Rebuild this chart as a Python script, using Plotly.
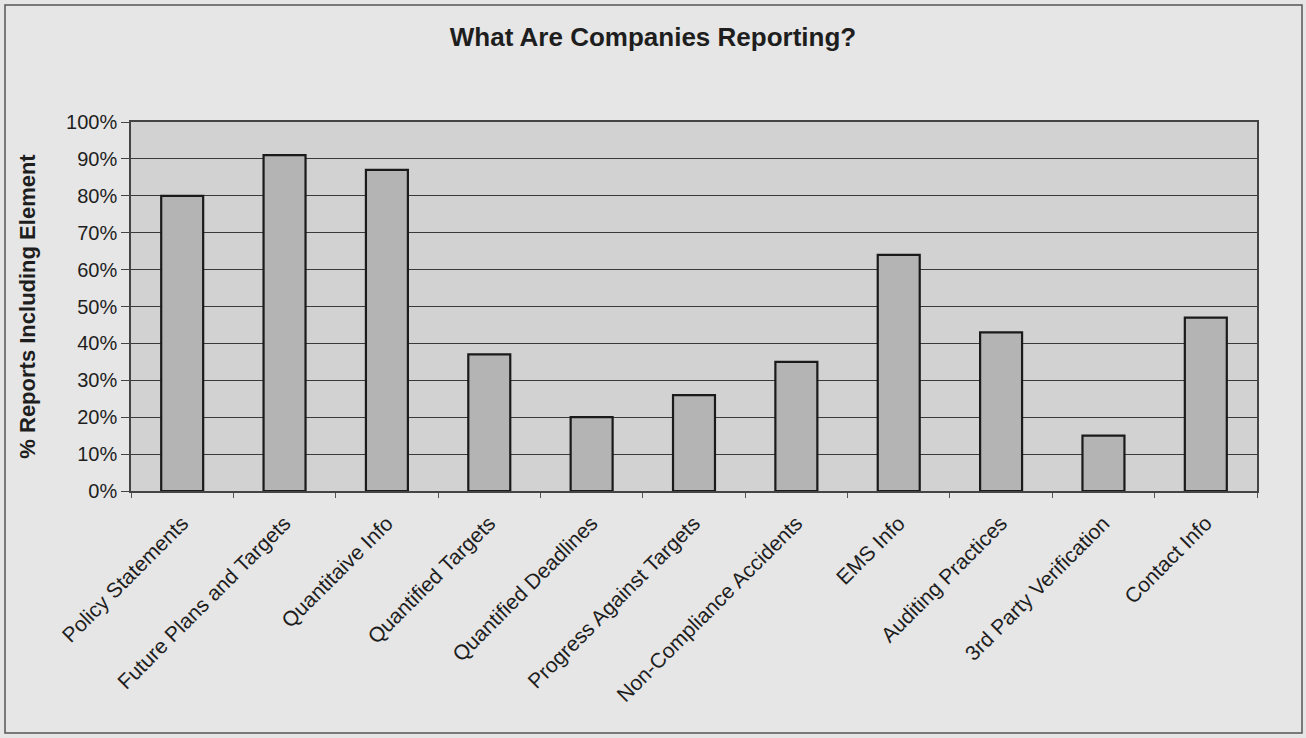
import plotly.graph_objects as go

categories = ["Policy Statements", "Future Plans and Targets", "Quantitaive Info",
              "Quantified Targets", "Quantified Deadlines", "Progress Against Targets",
              "Non-Compliance Accidents", "EMS Info", "Auditing Practices",
              "3rd Party Verification", "Contact Info"]
values = [0.80, 0.91, 0.87, 0.37, 0.20, 0.26, 0.35, 0.64, 0.43, 0.15, 0.47]
y_ticks = [0, 0.1, 0.2, 0.3, 0.4, 0.5, 0.6, 0.7, 0.8, 0.9, 1.0]

W, H = 1306, 738
ml, mr, mt, mb = 131, 49, 122, 247
pw, ph = W - ml - mr, H - mt - mb

fig = go.Figure(go.Bar(
    x=categories, y=values,
    marker=dict(color="#b4b4b4", line=dict(color="#1a1a1a", width=2.2)),
    width=0.41,
))

font = "Liberation Sans, Arial, sans-serif"
fig.update_layout(
    width=W, height=H,
    margin=dict(l=ml, r=mr, t=mt, b=mb),
    paper_bgcolor="#e6e6e6",
    plot_bgcolor="#d2d2d2",
    font=dict(family=font, size=21, color="#1e1e1e"),
    title=dict(text="<b>What Are Companies Reporting?</b>", x=0.5, xref="container",
               y=1 - 37 / H, yanchor="middle", xanchor="center",
               font=dict(size=26, family=font, color="#1e1e1e")),
    showlegend=False,
    xaxis=dict(tickangle=-45, tickson="boundaries", ticks="outside", ticklen=5,
               tickcolor="#555", showline=True, linecolor="#444", linewidth=1.5,
               mirror=True, showgrid=False, tickfont=dict(size=21),
               ticklabelstandoff=10),
    yaxis=dict(range=[0, 1], tickvals=y_ticks, tickformat=".0%", ticks="outside",
               ticklen=8, tickcolor="#444", showline=True, linecolor="#444",
               linewidth=1.5, mirror=True, showgrid=True, gridcolor="#3a3a3a",
               gridwidth=1.2, zeroline=False, tickfont=dict(size=20),
               title=dict(text="<b>% Reports Including Element</b>",
                          font=dict(size=22), standoff=24)),
    shapes=[dict(type="rect", xref="paper", yref="paper",
                 x0=(5 - ml) / pw, x1=(1302 - ml) / pw,
                 y0=(H - mb - 733) / ph, y1=(H - mb - 5) / ph,
                 line=dict(color="#555", width=1.5), layer="below")],
)

fig.write_html("out.html")
